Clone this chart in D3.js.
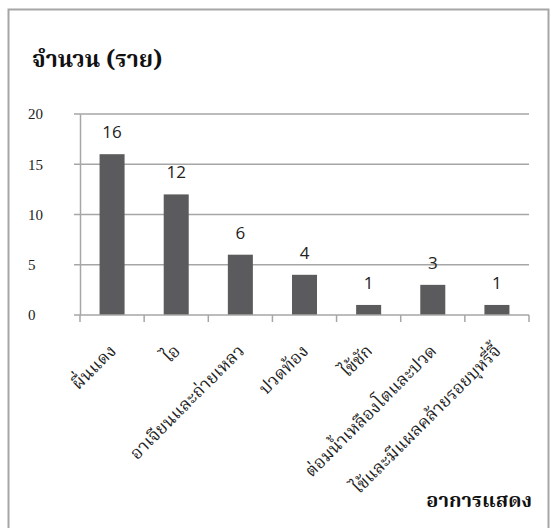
<!DOCTYPE html>
<html><head><meta charset="utf-8">
<script src="https://cdn.jsdelivr.net/npm/d3@7"></script>
<style>body{margin:0;background:#fff;}</style>
</head><body>
<svg id="c" width="551" height="528"></svg>
<script>
const categories = ["ผื่นแดง","ไอ","อาเจียนและถ่ายเหลว","ปวดท้อง","ไข้ชัก","ต่อมน้ำเหลืองโตและปวด","ไข้และมีแผลคล้ายรอยบุหรี่จี้"];
const values = [16,12,6,4,1,3,1];
const yTicks = [0,5,10,15,20];
const yTitle = "จำนวน (ราย)";
const xTitle = "อาการแสดง";

const svg = d3.select("#c");
const thai = "'Noto Serif Thai','Noto Sans Thai','Loma','Garuda','DejaVu Sans',sans-serif";

svg.append("rect").attr("x",8.5).attr("y",9.5).attr("width",540).attr("height",530)
  .attr("fill","#fff").attr("stroke","#a6a6a6").attr("stroke-width",2);

const x = d3.scaleBand().domain(categories).range([80,529]).paddingInner(0.61).paddingOuter(0.305);
const y = d3.scaleLinear().domain([0,20]).range([315,114]);

svg.selectAll("line.grid").data(yTicks.filter(t=>t>0)).join("line")
  .attr("x1",80).attr("x2",529).attr("y1",d=>y(d)).attr("y2",d=>y(d))
  .attr("stroke","#a6a6a6").attr("stroke-width",1.5);

const ya = svg.append("g").attr("transform","translate(80,0)")
  .call(d3.axisLeft(y).tickValues(yTicks).tickSize(0).tickPadding(30));
ya.select(".domain").attr("stroke","#a6a6a6").attr("stroke-width",1.5);
ya.selectAll("text").attr("font-family","'Liberation Serif','Times New Roman',serif").attr("font-size",15).attr("fill","#222").attr("text-anchor","start").attr("dx",-22);
ya.selectAll(".tick line").remove();
svg.selectAll("line.ylt").data(yTicks).join("line")
  .attr("x1",74).attr("x2",80).attr("y1",d=>y(d)).attr("y2",d=>y(d))
  .attr("stroke","#a6a6a6").attr("stroke-width",1.5);

svg.selectAll("rect.bar").data(values).join("rect")
  .attr("x",(d,i)=>x(categories[i])).attr("width",x.bandwidth())
  .attr("y",d=>y(d)).attr("height",d=>y(0)-y(d)).attr("fill","#5b5b5d");

const xa = svg.append("g").attr("transform","translate(0,315)")
  .call(d3.axisBottom(x).tickSize(0).tickFormat(""));
xa.select(".domain").attr("stroke","#a6a6a6").attr("stroke-width",1.5).attr("d","M80,0H529");
const bounds = d3.range(categories.length+1).map(i=>80+i*(529-80)/categories.length);
svg.selectAll("line.xt").data(bounds).join("line")
  .attr("x1",d=>d).attr("x2",d=>d).attr("y1",315).attr("y2",322)
  .attr("stroke","#a6a6a6").attr("stroke-width",1.5);

svg.selectAll("text.val").data(values).join("text")
  .attr("x",(d,i)=>x(categories[i])+x.bandwidth()/2).attr("y",d=>y(d)-16)
  .attr("text-anchor","middle").attr("font-family","'Open Sans','Noto Sans',sans-serif")
  .attr("font-size",17).attr("fill","#222").text(d=>d);

svg.selectAll("text.cat").data(categories).join("text")
  .attr("transform",d=>`translate(${x(d)+x.bandwidth()/2+5},${352}) rotate(-45)`)
  .attr("text-anchor","end").attr("font-family",thai).attr("font-size",17.5).attr("fill","#222")
  .text(d=>d);

svg.append("text").attr("x",32).attr("y",67).attr("font-family",thai).attr("font-weight","bold")
  .attr("font-size",23).attr("fill","#111").text(yTitle);
svg.append("text").attr("x",532).attr("y",507).attr("text-anchor","end").attr("font-family",thai).attr("font-weight","bold")
  .attr("font-size",20).attr("fill","#111").text(xTitle);
</script>
</body></html>
